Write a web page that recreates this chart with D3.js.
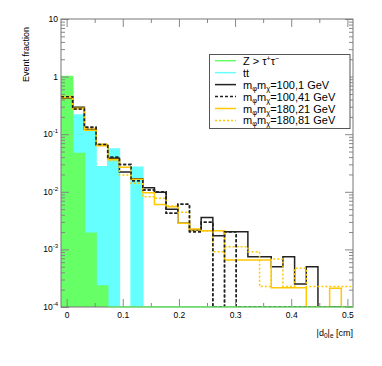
<!DOCTYPE html>
<html>
<head>
<meta charset="utf-8">
<script src="https://d3js.org/d3.v7.min.js"></script>
<style>
body { margin: 0; background: #fff; }
text { font-family: "Liberation Sans", Arial, sans-serif; }
</style>
</head>
<body>
<script>
// histogram binning: 25 bins starting at -0.01
const binLo = -0.01, binW = 0.0208, nBins = 25;

// bin contents (event fraction)
const zTauTau = [1.0, 0.0462, 0.0019, 0.000232, 0, 0, 0, 0, 0, 0, 0, 0, 0, 0, 0, 0, 0, 0, 0, 0, 0, 0, 0, 0, 0];
const ttbar   = [0.6, 0.2155, 0.1183, 0.0273, 0.0553, 0, 0.0266, 0, 0, 0, 0, 0, 0, 0, 0, 0, 0, 0, 0, 0, 0, 0, 0, 0, 0];
const m100_1  = [0.420, 0.293, 0.1216, 0.0642, 0.0382, 0.0221, 0.01687, 0.01178, 0.0098, 0.00497, 0.00284, 0.00217, 0.00358, 0.00173, 0.00203, 0.00203, 0.000747, 0.000747, 0.000501, 0.000747, 0.000251, 0.000501, 0, 0, 0];
const m100_41 = [0.448, 0.274, 0.1318, 0.0663, 0.0397, 0.0298, 0.0156, 0.01075, 0.01004, 0.00424, 0.00607, 0.00203, 0.00295, 0, 0.00203, 0, 0, 0, 0, 0, 0, 0, 0, 0, 0];
const m180_21 = [0.4305, 0.2817, 0.1169, 0.0631, 0.0364, 0.0266, 0.01648, 0.00964, 0.00602, 0.00551, 0.00284, 0.00226, 0.00211, 0.00211, 0.000655, 0.000655, 0.000655, 0.000655, 0.000216, 0.000216, 0.000216, 0, 0, 0.000211, 0];
const m180_81 = [0.455, 0.277, 0.1256, 0.0676, 0.0349, 0.0196, 0.01405, 0.00822, 0.00771, 0.00566, 0.00441, 0.00209, 0.00209, 0.000912, 0.001114, 0.001114, 0.000912, 0.000227, 0.000681, 0.000227, 0.00047, 0.000227, 0.000227, 0.000227, 0.000227];

const xTicks = [0, 0.1, 0.2, 0.3, 0.4, 0.5];
const xTickLabels = ["0", "0.1", "0.2", "0.3", "0.4", "0.5"];
const xMinor = [0.05, 0.15, 0.25, 0.35, 0.45];
const yExps = [1, 0, -1, -2, -3, -4];

var W = 382, H = 366;
var m = {top: 19, right: 29, bottom: 59, left: 61};

var svg = d3.select("body").append("svg")
  .attr("width", W).attr("height", H);

var x = d3.scaleLinear().domain([-0.01, 0.51]).range([m.left, W - m.right]);
var y = d3.scaleLog().domain([1e-4, 10]).range([H - m.bottom, m.top]);
var yBot = y(1e-4);

svg.append("defs").append("clipPath").attr("id", "clip")
  .append("rect").attr("x", x(-0.01)).attr("y", y(10))
  .attr("width", x(0.51) - x(-0.01)).attr("height", yBot - y(10));

// step points: one per bin edge, last bin repeated
function steps(vals) {
  var pts = vals.map((v, i) => [binLo + i * binW, v]);
  pts.push([binLo + nBins * binW, vals[nBins - 1]]);
  return pts;
}
var yv = v => v > 0 ? y(v) : yBot;
var line = d3.line().curve(d3.curveStepAfter).x(d => x(d[0])).y(d => yv(d[1]));
var area = d3.area().curve(d3.curveStepAfter).x(d => x(d[0])).y0(yBot).y1(d => yv(d[1]));

var plot = svg.append("g").attr("clip-path", "url(#clip)");

// filled backgrounds: tt under Z
[[ttbar, "#66ffff"], [zTauTau, "#66ff66"]].forEach(function(s) {
  plot.append("path").attr("d", area(steps(s[0]))).attr("fill", s[1]);
  plot.append("path").attr("d", line(steps(s[0]))).attr("fill", "none")
    .attr("stroke", s[1]).attr("stroke-width", 1.5);
});

var sig = [
  {vals: m100_1,  color: "#222", dash: null},
  {vals: m100_41, color: "#222", dash: "3,2"},
  {vals: m180_21, color: "#ffc800", dash: null},
  {vals: m180_81, color: "#ffc800", dash: "2,2"}
];
sig.forEach(function(s) {
  plot.append("path").attr("d", line(steps(s.vals)))
    .attr("fill", "none").attr("stroke", s.color)
    .attr("stroke-width", 1.5).attr("stroke-dasharray", s.dash);
});

// axes, ROOT style ticks pointing inward
var yMinor = [];
for (var e = -4; e < 1; e++) for (var k = 2; k < 10; k++) yMinor.push(k * Math.pow(10, e));
var yMajor = yExps.map(p => Math.pow(10, p));

function axisStyle(g) {
  g.select(".domain").remove();
  g.selectAll("line").attr("stroke", "#888");
  g.selectAll("text").attr("fill", "#000").style("font-size", "8.5px");
}

svg.append("g").attr("transform", "translate(0," + yBot + ")")
  .call(d3.axisBottom(x).tickValues(xTicks).tickSize(-8).tickPadding(5)
    .tickFormat((d, i) => xTickLabels[i]))
  .call(axisStyle);
svg.append("g").attr("transform", "translate(0," + yBot + ")")
  .call(d3.axisBottom(x).tickValues(xMinor).tickSize(-4).tickFormat(""))
  .call(axisStyle);
svg.append("g").attr("transform", "translate(0," + m.top + ")")
  .call(d3.axisTop(x).tickValues(xTicks).tickSize(-8).tickFormat(""))
  .call(axisStyle);
svg.append("g").attr("transform", "translate(0," + m.top + ")")
  .call(d3.axisTop(x).tickValues(xMinor).tickSize(-4).tickFormat(""))
  .call(axisStyle);

var yl = svg.append("g").attr("transform", "translate(" + m.left + ",0)")
  .call(d3.axisLeft(y).tickValues(yMajor).tickSize(-8).tickPadding(4).tickFormat(""))
  .call(axisStyle);
svg.append("g").attr("transform", "translate(" + m.left + ",0)")
  .call(d3.axisLeft(y).tickValues(yMinor).tickSize(-4).tickFormat(""))
  .call(axisStyle);
svg.append("g").attr("transform", "translate(" + (W - m.right) + ",0)")
  .call(d3.axisRight(y).tickValues(yMajor).tickSize(-8).tickFormat(""))
  .call(axisStyle);
svg.append("g").attr("transform", "translate(" + (W - m.right) + ",0)")
  .call(d3.axisRight(y).tickValues(yMinor).tickSize(-4).tickFormat(""))
  .call(axisStyle);

// y tick labels with superscript exponents
yExps.forEach(function(p) {
  var t = svg.append("text").attr("x", m.left - 3).attr("y", y(Math.pow(10, p)) + 3)
    .attr("text-anchor", "end").style("font-size", "8.5px");
  if (p === 1) t.text("10");
  else if (p === 0) t.text("1");
  else {
    t.append("tspan").text("10");
    t.append("tspan").attr("dy", -4).style("font-size", "6px").text("-" + (-p));
  }
});

// frame
svg.append("rect").attr("x", x(-0.01)).attr("y", y(10))
  .attr("width", x(0.51) - x(-0.01)).attr("height", yBot - y(10))
  .attr("fill", "none").attr("stroke", "#777").attr("stroke-width", 1);
// green histogram outline sits on the bottom axis
svg.append("line").attr("x1", x(binLo + 4 * binW)).attr("x2", x(0.51))
  .attr("y1", yBot).attr("y2", yBot).attr("stroke", "#66ff66").attr("stroke-width", 1.2);
plot.append("path").attr("d", line(steps(m100_41))).attr("fill", "none")
  .attr("stroke", "#222").attr("stroke-width", 1.5).attr("stroke-dasharray", "3,2");

// axis titles
svg.append("text").attr("transform", "translate(28.5,27) rotate(-90)")
  .attr("text-anchor", "end").style("font-size", "9px").text("Event fraction");
var xt = svg.append("text").attr("x", W - m.right).attr("y", 336)
  .attr("text-anchor", "end").style("font-size", "9px");
xt.append("tspan").text("|d");
xt.append("tspan").attr("dy", 2).style("font-size", "6.5px").text("0");
xt.append("tspan").attr("dy", -2).text("|");
xt.append("tspan").attr("dy", 2).style("font-size", "6.5px").text("e");
xt.append("tspan").attr("dy", -2).text(" [cm]");

// legend
var leg = svg.append("g");
leg.append("rect").attr("x", 209.5).attr("y", 54.5).attr("width", 140.5).attr("height", 74)
  .attr("fill", "#fff").attr("stroke", "#555").attr("stroke-width", 1);
var entries = [
  {color: "#66ff66", dash: null, label: ["Z > τ", "+", "τ", "−"]},
  {color: "#66ffff", dash: null, label: ["tt"]},
  {color: "#222", dash: null, mass: "=100,1 GeV"},
  {color: "#222", dash: "3,2", mass: "=100,41 GeV"},
  {color: "#ffc800", dash: null, mass: "=180,21 GeV"},
  {color: "#ffc800", dash: "2,2", mass: "=180,81 GeV"}
];
entries.forEach(function(en, i) {
  var cy = 60.7 + i * 11.95;
  leg.append("line").attr("x1", 215).attr("x2", 236).attr("y1", cy).attr("y2", cy)
    .attr("stroke", en.color).attr("stroke-width", 1.5).attr("stroke-dasharray", en.dash);
  var t = leg.append("text").attr("x", 243).attr("y", cy + 4).style("font-size", "11px");
  if (en.mass) {
    t.append("tspan").text("m");
    t.append("tspan").attr("dy", 2).style("font-size", "7.5px").text("φ");
    t.append("tspan").attr("dy", -2).text("m");
    t.append("tspan").attr("dy", 2).style("font-size", "7.5px").text("χ");
    t.append("tspan").attr("dy", -2).text(en.mass);
  } else if (en.label.length > 1) {
    t.append("tspan").text(en.label[0]);
    t.append("tspan").attr("dy", -4).style("font-size", "7px").text(en.label[1]);
    t.append("tspan").attr("dy", 4).text(en.label[2]);
    t.append("tspan").attr("dy", -4).style("font-size", "7px").text(en.label[3]);
  } else {
    t.text(en.label[0]);
  }
});
</script>
</body>
</html>
